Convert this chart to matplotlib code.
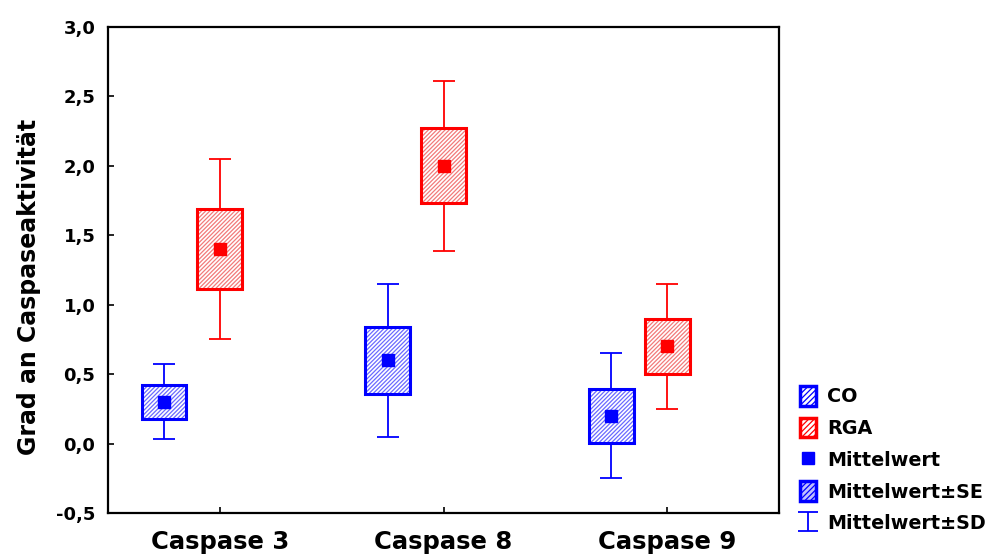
import matplotlib
matplotlib.use("Agg")
import matplotlib.pyplot as plt
from matplotlib.patches import Patch
from matplotlib.lines import Line2D
import numpy as np

plt.rcParams['font.family'] = ['DejaVu Sans']
plt.rcParams['font.weight'] = 'bold'
plt.rcParams['hatch.linewidth'] = 0.9

categories = ["Caspase 3", "Caspase 8", "Caspase 9"]
groups = ["CO", "RGA"]
co_mean = [0.30, 0.60, 0.20]
co_se = [0.125, 0.24, 0.195]
co_sd = [0.27, 0.55, 0.45]
rga_mean = [1.40, 2.00, 0.70]
rga_se = [0.29, 0.27, 0.20]
rga_sd = [0.65, 0.61, 0.45]
yticks = [-0.5, 0.0, 0.5, 1.0, 1.5, 2.0, 2.5, 3.0]
ytick_labels = ["-0,5", "0,0", "0,5", "1,0", "1,5", "2,0", "2,5", "3,0"]
legend_labels = ["CO", "RGA", "Mittelwert", "Mittelwert±SE", "Mittelwert±SD"]

colors = {"CO": "#0000ff", "RGA": "#ff0000"}
hatch_colors = {"CO": "#6a6aff", "RGA": "#f27a7a"}
offsets = {"CO": -0.25, "RGA": 0.0}

fig = plt.figure(figsize=(9.89, 5.54), dpi=100)
ax = fig.add_axes([108/989, 1-513/554, (779-108)/989, (513-27)/554])

x = np.arange(1, len(categories)+1)
data = {"CO": (co_mean, co_se, co_sd), "RGA": (rga_mean, rga_se, rga_sd)}
bw = 0.2
for g in groups:
    m, se, sd = (np.array(v) for v in data[g])
    xp = x + offsets[g]
    c = colors[g]
    # SD whiskers
    ax.errorbar(xp, m, yerr=sd, fmt='none', ecolor=c, elinewidth=1.3,
                capsize=8, capthick=1.3, zorder=2)
    # SE box: hatch layer then edge
    ax.bar(xp, 2*se, bottom=m-se, width=bw, facecolor='white',
           edgecolor=hatch_colors[g], linewidth=0, hatch='////////', zorder=3)
    ax.bar(xp, 2*se, bottom=m-se, width=bw, facecolor='none',
           edgecolor=c, linewidth=2.2, zorder=4)
    ax.plot(xp, m, linestyle='none', marker='s', markersize=8.5,
            color=c, zorder=5)

ax.set_xlim(0.5, 3.5)
ax.set_ylim(-0.5, 3.0)
ax.set_xticks(x)
ax.set_xticklabels(categories, fontsize=17.5, fontweight='bold')
ax.set_yticks(yticks)
ax.set_yticklabels(ytick_labels, fontsize=13, fontweight='bold')
ax.tick_params(direction='in', length=4, width=1.2, top=False, right=False)
ax.tick_params(axis='x', pad=12)
ax.tick_params(axis='y', pad=9)
for s in ax.spines.values():
    s.set_linewidth(1.6)
ax.set_ylabel("Grad an Caspaseaktivität", fontsize=17, fontweight='bold')
ax.yaxis.set_label_coords(-0.10, 0.465)

# Legend
h_co = Patch(facecolor='white', edgecolor=colors["CO"], linewidth=2.5, hatch='//////')
h_rga = Patch(facecolor='white', edgecolor=colors["RGA"], linewidth=2.5, hatch='//////')
h_mean = Line2D([], [], linestyle='none', marker='s', markersize=8, color=colors["CO"])
h_se = Patch(facecolor='#c0c0ff', edgecolor=colors["CO"], linewidth=2.5, hatch='//////')
h_sd = ax.errorbar([np.nan], [np.nan], yerr=[1], fmt='none', ecolor=colors["CO"],
                   elinewidth=1.3, capsize=7, capthick=1.3)
leg = fig.legend([h_co, h_rga, h_mean, h_se, h_sd], legend_labels,
                 loc='lower left', bbox_to_anchor=(792/989, 1-541/554),
                 frameon=False, prop={'size': 13.8, 'weight': 'bold'},
                 handlelength=0.85, handleheight=1.2, handletextpad=0.6,
                 labelspacing=0.6, borderaxespad=0)

fig.savefig("out.png", dpi=100)
